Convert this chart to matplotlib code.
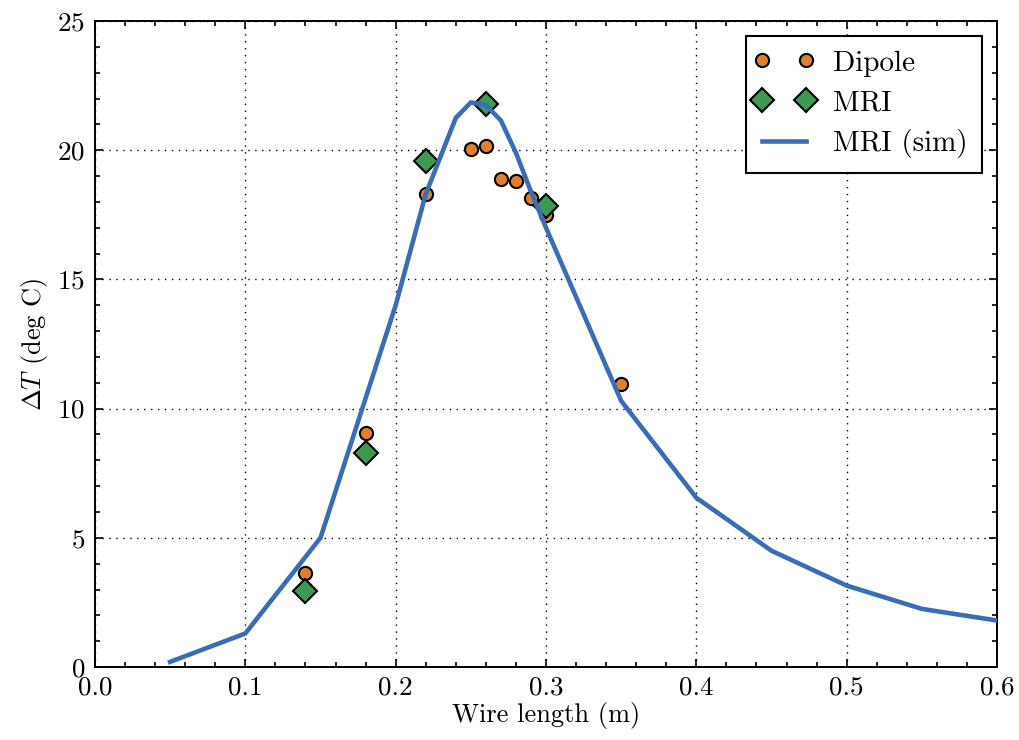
import matplotlib
matplotlib.use("Agg")
import matplotlib.pyplot as plt
from matplotlib.ticker import MultipleLocator, FormatStrFormatter
from matplotlib.lines import Line2D
from matplotlib.legend_handler import HandlerLine2D

plt.rcParams['font.family'] = ['cmr10', 'DejaVu Serif']
plt.rcParams['mathtext.fontset'] = 'cm'
plt.rcParams['axes.formatter.use_mathtext'] = True

# Measured temperature rise versus wire length
dipole_len = [0.14, 0.18, 0.22, 0.25, 0.26, 0.27, 0.28, 0.29, 0.30, 0.35]
dipole_dT = [3.65, 9.05, 18.3, 20.05, 20.15, 18.9, 18.8, 18.15, 17.5, 10.95]

mri_len = [0.14, 0.18, 0.22, 0.26, 0.30]
mri_dT = [2.95, 8.3, 19.6, 21.8, 17.85]

# Simulated MRI heating curve
sim_len = [0.05, 0.10, 0.15, 0.20, 0.22, 0.24, 0.25, 0.26, 0.27, 0.28, 0.29,
           0.30, 0.35, 0.40, 0.45, 0.50, 0.55, 0.60]
sim_dT = [0.2, 1.3, 5.0, 14.0, 18.3, 21.25, 21.85, 21.75, 21.15, 19.9, 18.4,
          17.0, 10.3, 6.55, 4.5, 3.15, 2.25, 1.8]

orange = '#E0802F'
green = '#3D9A52'
blue = '#3B6DB6'

fig = plt.figure(figsize=(10.2, 7.4), dpi=100)
ax = fig.add_axes([0.0931, 0.0986, 0.8844, 0.873])

ax.plot(dipole_len, dipole_dT, 'o', color=orange, markeredgecolor='black',
        markeredgewidth=1.5, markersize=9.5, label='Dipole', zorder=3)
ax.plot(mri_len, mri_dT, 'D', color=green, markeredgecolor='black',
        markeredgewidth=1.5, markersize=12, label='MRI', zorder=3)
ax.plot(sim_len, sim_dT, '-', color=blue, linewidth=3.3, label='MRI (sim)',
        zorder=4)

ax.set_xlim(0, 0.6)
ax.set_ylim(0, 25)
ax.xaxis.set_major_locator(MultipleLocator(0.1))
ax.xaxis.set_minor_locator(MultipleLocator(0.02))
ax.yaxis.set_major_locator(MultipleLocator(5))
ax.yaxis.set_minor_locator(MultipleLocator(1))
ax.xaxis.set_major_formatter(FormatStrFormatter('%.1f'))

ax.tick_params(which='both', direction='in', top=True, right=True,
               labelsize=19.5, width=1.2)
ax.tick_params(which='major', length=6)
ax.tick_params(which='minor', length=3.5)
ax.tick_params(axis='y', which='major', pad=7)
ax.tick_params(axis='x', which='major', pad=6)
for s in ax.spines.values():
    s.set_linewidth(1.4)

ax.grid(True, which='major', color='black', linestyle=(0, (1, 4)),
        linewidth=1.0)
ax.set_axisbelow(True)

ax.set_xlabel('Wire length (m)', fontsize=19, labelpad=2)
ax.set_ylabel(r'$\Delta T$ (deg C)', fontsize=19, labelpad=5)

leg = ax.legend(loc='upper right', numpoints=2, fontsize=21, fancybox=False,
                framealpha=1, edgecolor='black', handlelength=1.6,
                handletextpad=0.9, borderpad=0.5, labelspacing=0.45,
                borderaxespad=0.5,
                handler_map={Line2D: HandlerLine2D(marker_pad=0.05)})
leg.get_frame().set_linewidth(1.5)

fig.savefig('out.png', dpi=100)
